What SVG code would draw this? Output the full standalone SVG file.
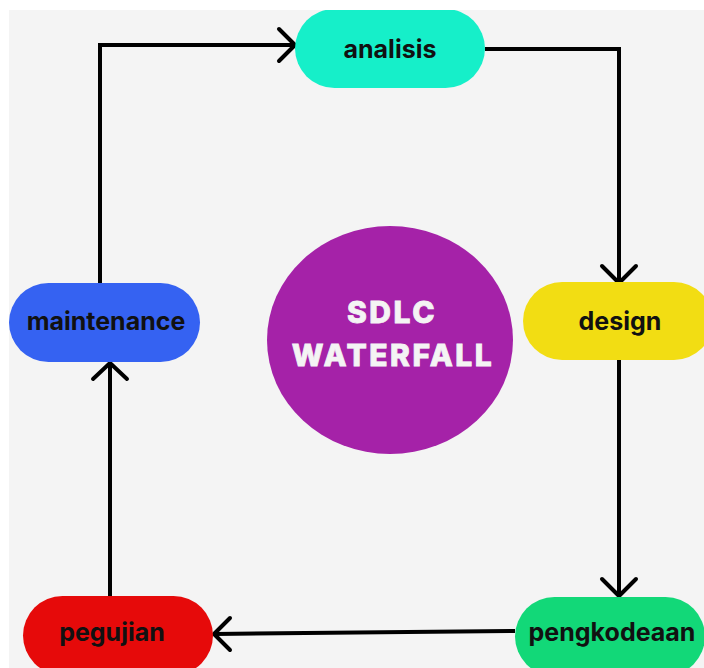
<svg xmlns="http://www.w3.org/2000/svg" width="704" height="668" viewBox="0 0 704 668">
  <style>
    .lbl { font-family: Inter, "Liberation Sans", sans-serif; font-weight: 700; font-size: 25px; fill: #111; text-anchor: middle; }
    .title { font-family: Inter, "Liberation Sans", sans-serif; font-weight: 800; font-size: 30px; letter-spacing: 2.5px; fill: #f4f4f4; stroke: #f4f4f4; stroke-width: 0.8; text-anchor: middle; }
    .conn { fill: none; stroke: #000; stroke-width: 4; stroke-linejoin: miter; }
    .head { fill: none; stroke: #000; stroke-width: 4; stroke-linecap: round; stroke-linejoin: round; }
  </style>
  <defs>
    <clipPath id="area"><rect x="9" y="10" width="695" height="658"/></clipPath>
  </defs>
  <rect x="0" y="0" width="704" height="668" fill="#ffffff"/>
  <rect x="9" y="10" width="695" height="658" fill="#f4f4f4"/>
  <g clip-path="url(#area)">
    <g id="connectors">
      <polyline class="conn" points="100,283 100,45 294,45"/>
      <polyline class="head" points="279,29 295,45 279,61"/>
      <polyline class="conn" points="485,49 619,49 619,282"/>
      <polyline class="head" points="602,266 619,283 636,266"/>
      <polyline class="conn" points="619,360 619,596"/>
      <polyline class="head" points="602,579 619,596 636,579"/>
      <polyline class="conn" points="515,631 215,634"/>
      <polyline class="head" points="230,618 214,634 230,650"/>
      <polyline class="conn" points="110,596 110,364"/>
      <polyline class="head" points="93,379 110,363 127,379"/>
    </g>
    <g id="center">
      <ellipse cx="390" cy="340" rx="123" ry="114" fill="#a522a8"/>
      <text class="title" x="392" y="323">SDLC</text>
      <text class="title" x="393" y="366">WATERFALL</text>
    </g>
    <g id="analisis">
      <rect x="295" y="9" width="190" height="79" rx="39.5" fill="#16efc9"/>
      <text class="lbl" x="390" y="58">analisis</text>
    </g>
    <g id="design">
      <rect x="523" y="282" width="190" height="78" rx="39" fill="#f2dd13"/>
      <text class="lbl" x="620" y="330">design</text>
    </g>
    <g id="pengkodeaan">
      <rect x="515" y="597" width="190" height="79" rx="39.5" fill="#12d878"/>
      <text class="lbl" x="612" y="641">pengkodeaan</text>
    </g>
    <g id="pegujian">
      <rect x="23" y="596" width="190" height="79" rx="39.5" fill="#e60a0a"/>
      <text class="lbl" x="112" y="641">pegujian</text>
    </g>
    <g id="maintenance">
      <rect x="9" y="283" width="191" height="79" rx="39.5" fill="#3562f2"/>
      <text class="lbl" x="106" y="330">maintenance</text>
    </g>
  </g>
</svg>
